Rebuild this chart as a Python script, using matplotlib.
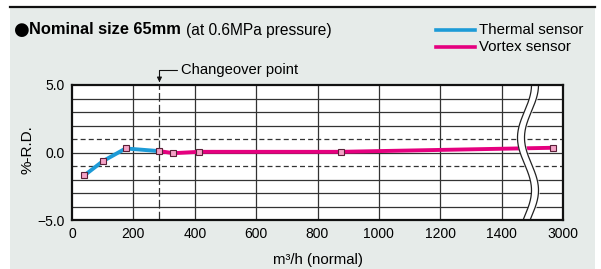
import numpy as np
import matplotlib
matplotlib.use("Agg")
import matplotlib.pyplot as plt
from matplotlib.lines import Line2D

plt.rcParams['font.family'] = ['Liberation Sans', 'DejaVu Sans']

# data (flow in m3/h normal, error in %-R.D.)
thermal_x = [40, 100, 175, 285]
thermal_y = [-1.7, -0.65, 0.3, 0.1]
vortex_x = [285, 330, 415, 875, 2730]
vortex_y = [0.1, -0.05, 0.05, 0.05, 0.35]
x_ticks = [0, 200, 400, 600, 800, 1000, 1200, 1400, 3000]
y_ticks = [-5.0, 0.0, 5.0]
y_tick_labels = ['\u22125.0', '0.0', '5.0']
changeover = 285

W, H = 601, 269
bg = '#e6ebe9'
blue = '#1d9bd7'
pink = '#e5007f'


# axis is broken after 1400: last grid cell covers 1400..3000
def fwd(x):
    x = np.asarray(x, dtype=float)
    return np.where(x <= 1400, x, 1400 + (x - 1400) / 8.0)


def inv(v):
    v = np.asarray(v, dtype=float)
    return np.where(v <= 1400, v, 1400 + (v - 1400) * 8.0)


fig = plt.figure(figsize=(W / 100, H / 100), dpi=100)
fig.patch.set_facecolor('white')

# panel background + top rule
fig.add_artist(plt.Rectangle((10 / W, 0), 585 / W, 262 / H, transform=fig.transFigure,
                             facecolor=bg, edgecolor='none', zorder=0))
fig.add_artist(Line2D([10 / W, 595 / W], [262 / H, 262 / H], transform=fig.transFigure,
                      color='#111111', lw=1.6))

ax = fig.add_axes([72 / W, (H - 220) / H, 491 / W, 135 / H])
ax.set_facecolor('white')
ax.set_xscale('function', functions=(fwd, inv))
ax.set_xlim(0, 3000)
ax.set_ylim(-5, 5)

# grid
for yv in [-4, -3, -2, 0, 2, 3, 4]:
    ax.axhline(yv, color='#333333', lw=0.9, zorder=1)
for yv in [-1, 1]:
    ax.axhline(yv, color='#333333', lw=0.9, ls=(0, (4, 2.5)), zorder=1)
for xv in x_ticks[1:-1]:
    ax.axvline(xv, color='#333333', lw=0.9, zorder=1)
ax.axvline(changeover, color='#333333', lw=0.9, ls=(0, (7, 2.5)), zorder=1)

ax.set_xticks(x_ticks)
ax.set_xticklabels([str(v) for v in x_ticks], fontsize=10)
ax.set_yticks(y_ticks)
ax.set_yticklabels(y_tick_labels, fontsize=10)
ax.tick_params(length=0, pad=5)
for s in ax.spines.values():
    s.set_linewidth(1.6)
    s.set_color('#111111')
    s.set_zorder(6)

# break symbol (wavy double line)
yy = np.linspace(0, 1, 200)
yd = -5 + 10 * yy
cx = (528 - 72) / 491 + (7 / 491) * np.cos(2 * np.pi * (yd - 5) / 7.8)
half = 3.5 / 491
ax.fill_betweenx(yy, cx - half, cx + half, transform=ax.transAxes, color='white', zorder=4)
ax.plot(cx - half, yy, transform=ax.transAxes, color='#222222', lw=0.9, zorder=4)
ax.plot(cx + half, yy, transform=ax.transAxes, color='#222222', lw=0.9, zorder=4)

# series
ax.plot(thermal_x, thermal_y, color=blue, lw=2.8, zorder=3, solid_capstyle='butt')
ax.plot(vortex_x, vortex_y, color=pink, lw=2.8, zorder=3, solid_capstyle='butt')
mk = dict(ls='none', marker='s', ms=4.6, mfc='#f5a3c7', mec='#5a2038', mew=0.8, zorder=5)
ax.plot(thermal_x, thermal_y, **mk)
ax.plot(vortex_x[1:], vortex_y[1:], **mk)

ax.set_xlabel('m\u00b3/h (normal)', fontsize=10.8)
ax.xaxis.set_label_coords((318 - 72) / 491, -(260 - 220) / 135)
ax.xaxis.label.set_va('center')
ax.set_ylabel('%-R.D.', fontsize=11)
ax.yaxis.set_label_coords(-(72 - 28) / 491, (220 - 150) / 135)
ax.yaxis.label.set_va('center')

# changeover annotation
ax.annotate('Changeover point', xy=(changeover, 5.0), xycoords='data',
            xytext=(181 / W, 1 - 70 / H), textcoords='figure fraction',
            ha='left', va='center', fontsize=10.6,
            arrowprops=dict(arrowstyle='-|>', color='#111111', lw=0.8, mutation_scale=7,
                            connectionstyle='angle,angleA=180,angleB=90,rad=0',
                            relpos=(0, 0.5), shrinkA=1, shrinkB=2))

# title
fig.text(14 / W, 1 - 30 / H, '\u25cf', fontsize=13, ha='left', va='center', family='DejaVu Sans')
t1 = fig.text(29 / W, 1 - 30 / H, 'Nominal size 65mm', fontsize=11.8, fontweight='bold',
              ha='left', va='center')
fig.canvas.draw()
bb = t1.get_window_extent()
fig.text(bb.x1 / W + 5 / W, 1 - 30 / H, '(at 0.6MPa pressure)', fontsize=11.2,
         ha='left', va='center')

# legend
for yl, c, lab in [(30, blue, 'Thermal sensor'), (47, pink, 'Vortex sensor')]:
    fig.add_artist(Line2D([436 / W, 475 / W], [1 - yl / H, 1 - yl / H],
                          transform=fig.transFigure, color=c, lw=2.6))
    fig.text(479 / W, 1 - yl / H, lab, fontsize=10.8, ha='left', va='center')

fig.savefig('out.png', dpi=100, facecolor='white')
